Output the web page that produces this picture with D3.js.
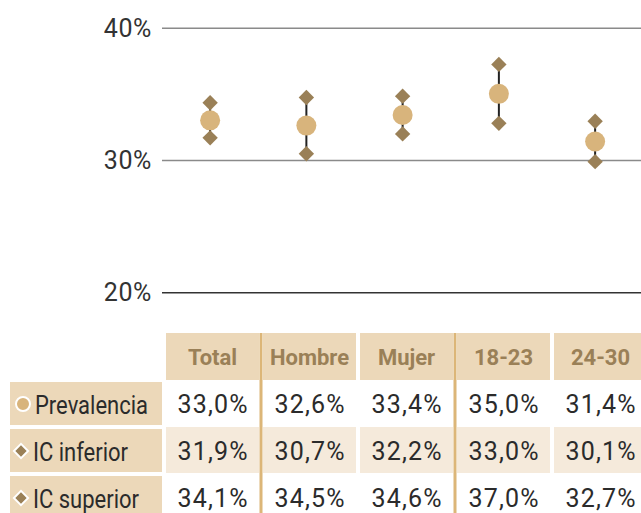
<!DOCTYPE html>
<html><head><meta charset="utf-8">
<script src="https://cdn.jsdelivr.net/npm/d3@7"></script>
<style>
html,body{margin:0;padding:0;background:#fff;}
svg{display:block;font-family:Roboto,"Noto Sans",sans-serif;}
</style></head>
<body>
<script>
// ---- data ----
const categories = ["Total", "Hombre", "Mujer", "18-23", "24-30"];
const prevalencia = [33.0, 32.6, 33.4, 35.0, 31.4];
const icInferior  = [31.9, 30.7, 32.2, 33.0, 30.1];
const icSuperior  = [34.1, 34.5, 34.6, 37.0, 32.7];
const rowLabels = ["Prevalencia", "IC inferior", "IC superior"];
const yTicks = [20, 30, 40];

// ---- layout / styles ----
const W = 641, H = 513;
const C_TAN = "#d8b47c", C_DIAM = "#9a8057", C_HEAD = "#ecd8b9", C_ROW2 = "#f5eadb", C_SEP = "#dcb678";
const svg = d3.select("body").append("svg").attr("width", W).attr("height", H);

const y = d3.scaleLinear().domain([20, 40]).range([292.3, 27.7]);
const x = d3.scaleBand().domain(categories).range([162, 643.25]);
const xt = d3.scaleBand().domain(categories).range([162, 647]);

const loc = d3.formatLocale({decimal: ",", thousands: ".", grouping: [3], currency: ["", "€"]});
const fmt = v => loc.format(".1f")(v) + "%";

// axis + gridlines
const axis = svg.append("g").attr("transform", "translate(162,0)")
  .call(d3.axisLeft(y).tickValues(yTicks).tickSize(-(W - 162)).tickPadding(10).tickFormat(d => d + "%"));
axis.select(".domain").remove();
axis.selectAll(".tick line").attr("stroke", d => d === 20 ? "#333" : "#8a8a8a").attr("stroke-width", 1.6);
axis.selectAll(".tick text").attr("fill", "#333").style("font-size", "25px").style("font-family", "Roboto")
  .style("letter-spacing", "0.6px").attr("dy", "0.34em");

// marks
const diamond = d3.symbol().type(d3.symbolSquare).size(118);
const g = svg.append("g");
categories.forEach((c, i) => {
  const cx = x(c) + x.bandwidth() / 2;
  const yl = y(icInferior[i]) + 3, yu = y(icSuperior[i]) - 3;
  g.append("line").attr("x1", cx).attr("x2", cx).attr("y1", yl).attr("y2", yu).attr("stroke", "#222").attr("stroke-width", 2);
  g.append("path").attr("d", diamond).attr("transform", `translate(${cx},${yu}) rotate(45)`).attr("fill", C_DIAM);
  g.append("path").attr("d", diamond).attr("transform", `translate(${cx},${yl}) rotate(45)`).attr("fill", C_DIAM);
  g.append("circle").attr("cx", cx).attr("cy", y(prevalencia[i])).attr("r", 10).attr("fill", C_TAN);
});

// table
const headTop = 333, headH = 47;
const rowTop = [381, 428, 475], rowH = 44;
const t = svg.append("g");
categories.forEach((c, i) => {
  const x0 = xt(c) + 4, x1 = xt(c) + xt.bandwidth();
  t.append("rect").attr("x", x0).attr("y", headTop).attr("width", x1 - x0).attr("height", headH).attr("fill", C_HEAD);
  t.append("rect").attr("x", x0).attr("y", rowTop[1] - 1).attr("width", x1 - x0).attr("height", rowH + 2).attr("fill", C_ROW2);
  t.append("text").attr("x", (x0 + x1) / 2).attr("y", headTop + headH / 2 + 8).attr("text-anchor", "middle")
    .attr("fill", C_DIAM).style("font-size", "22px").style("font-weight", "700").text(c);
  [prevalencia, icInferior, icSuperior].forEach((arr, r) => {
    t.append("text").attr("x", (x0 + x1) / 2 + 0.6).attr("y", rowTop[r] + rowH / 2 + 9.5).attr("text-anchor", "middle")
      .attr("fill", "#2b2b2b").style("font-size", "25px").style("letter-spacing", "1.2px").text(fmt(arr[i]));
  });
});
// separators
[categories[1], categories[3]].forEach(c => {
  t.append("rect").attr("x", xt(c) + 0.5).attr("y", headTop).attr("width", 3).attr("height", H - headTop).attr("fill", C_SEP);
});
// row labels
rowLabels.forEach((lab, r) => {
  t.append("rect").attr("x", 10).attr("y", rowTop[r] + 1).attr("width", 152).attr("height", rowH - 1).attr("fill", C_HEAD);
  const cy = rowTop[r] + rowH / 2 + 1;
  if (r === 0) {
    t.append("circle").attr("cx", 23).attr("cy", cy).attr("r", 7).attr("fill", C_TAN).attr("stroke", "#fff").attr("stroke-width", 2);
  } else {
    t.append("path").attr("d", d3.symbol().type(d3.symbolSquare).size(100)).attr("transform", `translate(21,${cy}) rotate(45)`)
      .attr("fill", C_DIAM).attr("stroke", "#fff").attr("stroke-width", 2);
  }
  t.append("text").attr("transform", `translate(${r === 0 ? 35 : 33},${cy + 9.5}) scale(0.88,1)`).attr("fill", "#2b2b2b")
    .style("font-size", "25px").text(lab);
});
</script>
</body></html>
